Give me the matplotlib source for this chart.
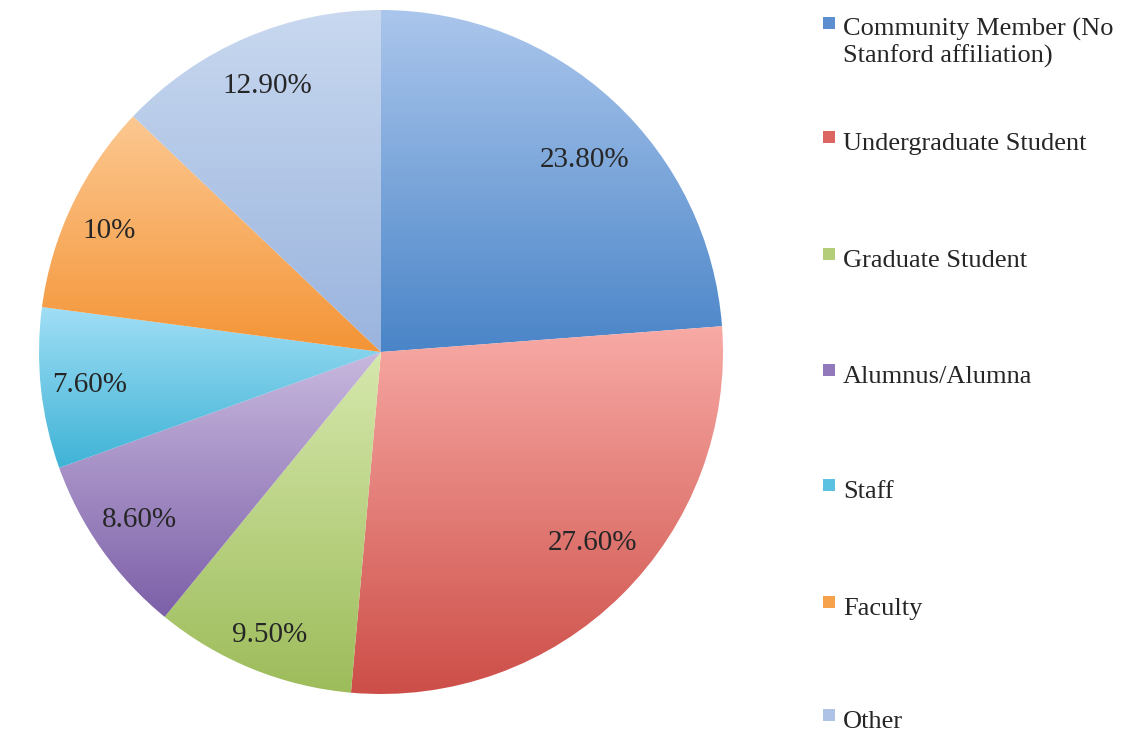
import numpy as np
import matplotlib
matplotlib.use("Agg")
import matplotlib.pyplot as plt
from matplotlib.colors import LinearSegmentedColormap
from matplotlib.patches import Rectangle

# Survey respondents by affiliation
categories = ["Community Member (No\nStanford affiliation)", "Undergraduate Student",
              "Graduate Student", "Alumnus/Alumna", "Staff", "Faculty", "Other"]
shares = [23.8, 27.6, 9.5, 8.6, 7.6, 10.0, 12.9]
share_labels = ["23.80%", "27.60%", "9.50%", "8.60%", "7.60%", "10%", "12.90%"]

# Vertical gradient per slice (top -> bottom) and legend swatch colours
top_colors = ["#abc6ec", "#f8aaa5", "#d6e8ad", "#c8b8de", "#a0def5", "#fcc891", "#c8d8ef"]
bottom_colors = ["#4a85c8", "#cd4e48", "#9dbc5a", "#7c60a8", "#3fb3d6", "#f49436", "#9ab4de"]
swatch_colors = ["#5b8fd0", "#dc6561", "#b3cd78", "#9179bb", "#5cc2e2", "#f6a24c", "#aec3e6"]

# Label anchor points in pie data units
label_xy = [(0.596, 0.561), (0.617, -0.558), (-0.325, -0.827), (-0.705, -0.491),
            (-0.851, -0.096), (-0.795, 0.354), (-0.333, 0.778)]

W, H = 1121, 734
fig = plt.figure(figsize=(W / 100, H / 100), dpi=100)
fig.patch.set_facecolor("white")

serif = ["Liberation Serif", "DejaVu Serif"]
text_color = "#262626"

cx, cy, r = 381, 352, 342
ax = fig.add_axes([(cx - r) / W, (H - cy - r) / H, 2 * r / W, 2 * r / H])
wedges, _ = ax.pie(shares, startangle=90, counterclock=False, radius=1,
                   wedgeprops=dict(linewidth=0))

grad = np.linspace(0, 1, 256).reshape(-1, 1)
for w, c0, c1 in zip(wedges, top_colors, bottom_colors):
    ext = w.get_path().get_extents()
    cmap = LinearSegmentedColormap.from_list("slice", [c0, c1])
    im = ax.imshow(grad, cmap=cmap, extent=(ext.x0, ext.x1, ext.y0, ext.y1),
                   origin="upper", aspect="auto", interpolation="bilinear",
                   zorder=w.get_zorder())
    im.set_clip_path(w)
    w.set_facecolor("none")

for (x, y), txt in zip(label_xy, share_labels):
    ax.text(x, y, txt, ha="center", va="center", fontsize=21,
            family=serif, color=text_color, zorder=5)

ax.set_xlim(-1, 1)
ax.set_ylim(-1, 1)
ax.set_aspect("equal")
ax.axis("off")

# Legend drawn in a pixel-space overlay
lax = fig.add_axes([0, 0, 1, 1])
lax.set_xlim(0, W)
lax.set_ylim(H, 0)
lax.axis("off")

baselines = [36, 150, 267, 383, 498, 615, 728]
for name, col, yb in zip(categories, swatch_colors, baselines):
    lax.add_patch(Rectangle((823, yb - 19), 12, 12, facecolor=col, edgecolor="none"))
    for k, line in enumerate(name.split("\n")):
        lax.text(843, yb + 27 * k, line, ha="left", va="baseline", fontsize=19,
                 family=serif, color=text_color)

fig.savefig("out.png", dpi=100, facecolor="white")
